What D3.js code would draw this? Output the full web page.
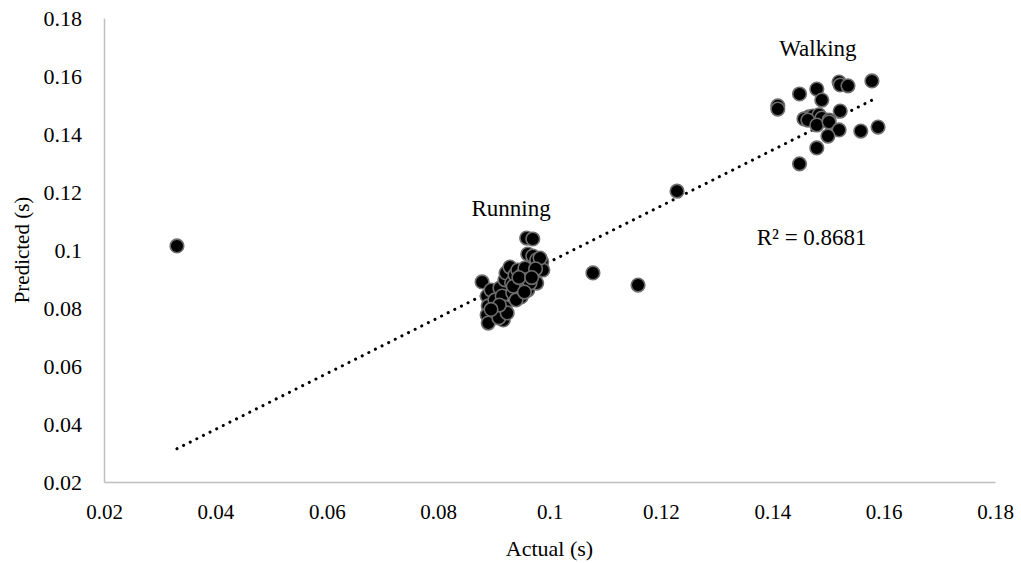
<!DOCTYPE html>
<html>
<head>
<meta charset="utf-8">
<script src="https://cdn.jsdelivr.net/npm/d3@7"></script>
<style>
  html, body { margin: 0; padding: 0; background: #fff; }
  svg { display: block; font-family: "Liberation Serif", "Times New Roman", serif; }
</style>
</head>
<body>
<svg id="chart" width="1021" height="563"></svg>
<script>
// Actual vs predicted durations (s)
const actual = [
  // running cluster
  0.0879, 0.0888, 0.0890, 0.0888, 0.0890, 0.0895, 0.0902, 0.0906, 0.0911, 0.0915,
  0.0917, 0.0920, 0.0920, 0.0922, 0.0929, 0.0932, 0.0934, 0.0938, 0.0943, 0.0947,
  0.0949, 0.0951, 0.0956, 0.0957, 0.0961, 0.0959, 0.0970, 0.0961, 0.0970, 0.0977,
  0.0974, 0.0977, 0.0986, 0.0988, 0.0983, 0.0965, 0.0940, 0.0909, 0.0924,
  0.0910, 0.0935, 0.0955, 0.0945, 0.0975, 0.0895, 0.0968,
  // outliers
  0.0331, 0.1078, 0.1159, 0.1229,
  // walking cluster
  0.1410, 0.1410, 0.1449, 0.1480, 0.1520, 0.1522, 0.1536, 0.1579, 0.1489, 0.1522,
  0.1466, 0.1473, 0.1484, 0.1489, 0.1502, 0.1457, 0.1464, 0.1480, 0.1502, 0.1520,
  0.1500, 0.1559, 0.1590, 0.1480, 0.1449
];
const predicted = [
  0.0890, 0.0841, 0.0807, 0.0776, 0.0748, 0.0862, 0.0828, 0.0793, 0.0869, 0.0841,
  0.0759, 0.0803, 0.0897, 0.0921, 0.0941, 0.0886, 0.0852, 0.0914, 0.0931, 0.0879,
  0.0838, 0.0914, 0.0938, 0.0897, 0.0862, 0.1041, 0.1038, 0.0986, 0.0979, 0.0966,
  0.0914, 0.0886, 0.0959, 0.0931, 0.0972, 0.0886, 0.0828, 0.0766, 0.0783,
  0.0810, 0.0875, 0.0855, 0.0905, 0.0935, 0.0795, 0.0905,
  0.1014, 0.0921, 0.0879, 0.1203,
  0.1497, 0.1486, 0.1538, 0.1555, 0.1579, 0.1569, 0.1566, 0.1583, 0.1517, 0.1479,
  0.1459, 0.1462, 0.1466, 0.1455, 0.1448, 0.1452, 0.1448, 0.1431, 0.1441, 0.1414,
  0.1393, 0.1410, 0.1424, 0.1352, 0.1297
];
const xTicks = [0.02, 0.04, 0.06, 0.08, 0.1, 0.12, 0.14, 0.16, 0.18];
const yTicks = [0.02, 0.04, 0.06, 0.08, 0.1, 0.12, 0.14, 0.16, 0.18];
// linear trendline (y = slope * x + intercept)
const trendSlope = 0.963;
const trendIntercept = -0.0004;
const groupLabels = ["Running", "Walking"];
const groupLabelAt = [[0.0931, 0.1117], [0.1482, 0.1669]];
const r2Text = "R\u00b2 = 0.8681";
const r2At = [0.1372, 0.1017];

const svg = d3.select("#chart");
const x = d3.scaleLinear().domain([0.02, 0.18]).range([104, 995]);
const y = d3.scaleLinear().domain([0.02, 0.18]).range([482, 18]);
const fmt = d => String(+d.toFixed(2));

// axes: plain grey baselines, no tick marks
const gx = svg.append("g").attr("transform", `translate(0,${y(0.02)})`)
  .call(d3.axisBottom(x).tickValues(xTicks).tickFormat(fmt).tickSize(0).tickPadding(30));
const gy = svg.append("g").attr("transform", `translate(${x(0.02)},0)`)
  .call(d3.axisLeft(y).tickValues(yTicks).tickFormat(fmt).tickSize(0).tickPadding(22));
[gx, gy].forEach(g => {
  g.select(".domain").attr("stroke", "#bfbfbf").attr("stroke-width", 1.5);
  g.selectAll("text").attr("font-family", "Liberation Serif, Times New Roman, serif")
    .attr("fill", "#000");
});
gx.selectAll("text").attr("font-size", 21).attr("dy", "0em").attr("y", 37);
gy.selectAll("text").attr("font-size", 22).attr("dy", "0.35em");

// axis titles
svg.append("text").attr("x", (x(0.02) + x(0.18)) / 2).attr("y", 556).attr("text-anchor", "middle")
  .attr("font-size", 22).text("Actual (s)");
svg.append("text").attr("transform", `translate(29,${(y(0.02) + y(0.18)) / 2}) rotate(-90)`)
  .attr("text-anchor", "middle").attr("font-size", 21).text("Predicted (s)");

// trendline across the data range
const [x0, x1] = d3.extent(actual);
svg.append("line")
  .attr("x1", x(x0)).attr("y1", y(trendSlope * x0 + trendIntercept))
  .attr("x2", x(x1)).attr("y2", y(trendSlope * x1 + trendIntercept))
  .attr("stroke", "#000").attr("stroke-width", 3)
  .attr("stroke-linecap", "round").attr("stroke-dasharray", "0.1 7.3");

// points
svg.append("g").selectAll("circle")
  .data(d3.range(actual.length))
  .join("circle")
  .attr("cx", i => x(actual[i]))
  .attr("cy", i => y(predicted[i]))
  .attr("r", 6.8)
  .attr("fill", "#000")
  .attr("stroke", "#6e6e6e")
  .attr("stroke-width", 1.6);

// annotations
svg.append("g").selectAll("text").data(groupLabels).join("text")
  .attr("x", (d, i) => x(groupLabelAt[i][0]))
  .attr("y", (d, i) => y(groupLabelAt[i][1]))
  .attr("text-anchor", "middle").attr("font-size", 23).text(d => d);
svg.append("text").attr("x", x(r2At[0])).attr("y", y(r2At[1]))
  .attr("font-size", 23).text(r2Text);
</script>
</body>
</html>
